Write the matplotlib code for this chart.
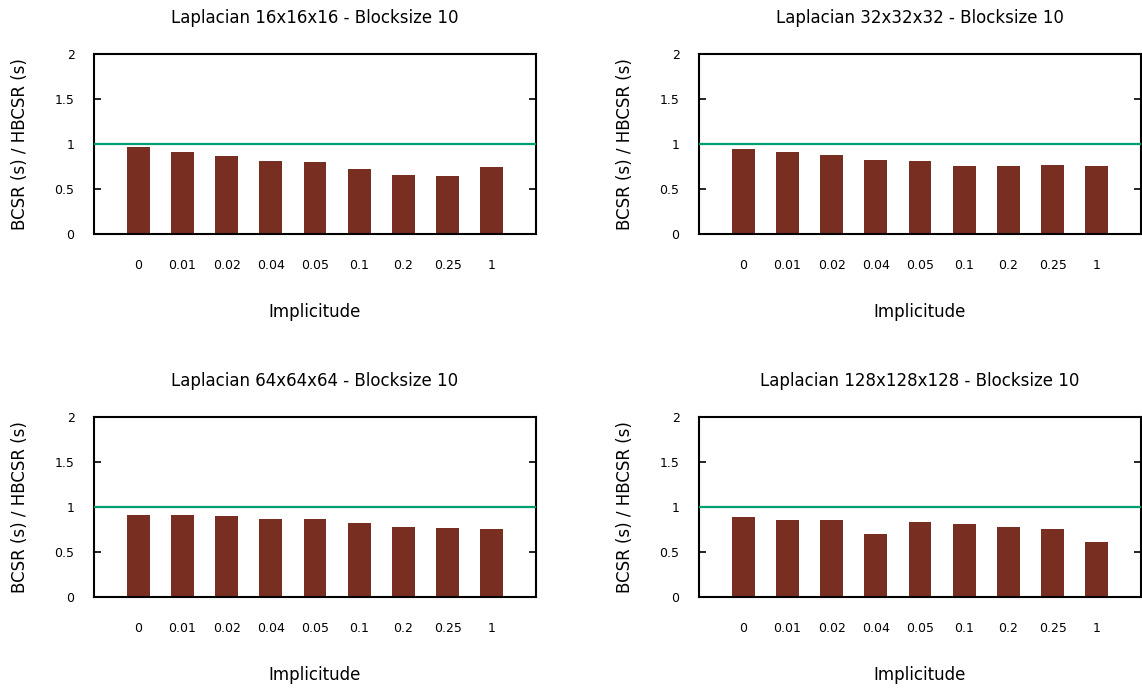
import matplotlib
matplotlib.use("Agg")
import matplotlib.pyplot as plt
import numpy as np

plt.rcParams['font.family'] = 'DejaVu Sans'

implicitude = ["0", "0.01", "0.02", "0.04", "0.05", "0.1", "0.2", "0.25", "1"]

titles = [
    "Laplacian 16x16x16 - Blocksize 10",
    "Laplacian 32x32x32 - Blocksize 10",
    "Laplacian 64x64x64 - Blocksize 10",
    "Laplacian 128x128x128 - Blocksize 10",
]

# BCSR time / HBCSR time for each grid size
ratio_16 = [0.967, 0.911, 0.867, 0.811, 0.800, 0.721, 0.654, 0.643, 0.744]
ratio_32 = [0.945, 0.911, 0.878, 0.822, 0.811, 0.755, 0.755, 0.766, 0.755]
ratio_64 = [0.911, 0.911, 0.900, 0.867, 0.867, 0.822, 0.778, 0.767, 0.756]
ratio_128 = [0.889, 0.856, 0.856, 0.700, 0.833, 0.811, 0.778, 0.756, 0.611]

series = [ratio_16, ratio_32, ratio_64, ratio_128]

W, H = 1142, 688
fig = plt.figure(figsize=(W / 100, H / 100), dpi=100)

# axes boxes in pixels: left, top
boxes = [(94, 54), (699, 54), (94, 417), (699, 417)]
aw, ah = 442, 180

bar_color = "#782e20"
line_color = "#009e73"

for (px, py), title, vals in zip(boxes, titles, series):
    ax = fig.add_axes([px / W, 1 - (py + ah) / H, aw / W, ah / H])
    x = np.arange(len(implicitude))
    ax.bar(x, vals, width=0.52, color=bar_color, zorder=2)
    ax.axhline(1.0, color=line_color, lw=1.6, zorder=3)
    ax.set_xlim(-1, len(implicitude))
    ax.set_ylim(0, 2)
    ax.set_yticks([0, 0.5, 1, 1.5, 2])
    ax.set_yticklabels(["0", "0.5", "1", "1.5", "2"])
    ax.set_xticks(x)
    ax.set_xticklabels(implicitude)
    ax.tick_params(axis='x', length=0, pad=18, labelsize=9)
    ax.tick_params(axis='y', direction='in', length=5, width=1.2, pad=14,
                   labelsize=9, right=True)
    for s in ax.spines.values():
        s.set_linewidth(1.5)
    ax.text(0.5, 1 + 36 / ah, title, transform=ax.transAxes,
            ha='center', va='center', fontsize=12)
    ax.set_xlabel("Implicitude", fontsize=12, va='center')
    ax.xaxis.set_label_coords(0.5, -78 / ah)
    ax.set_ylabel("BCSR (s) / HBCSR (s)", fontsize=12, va='center')
    ax.yaxis.set_label_coords(-74 / aw, 0.5)

fig.savefig("out.png", dpi=100)
